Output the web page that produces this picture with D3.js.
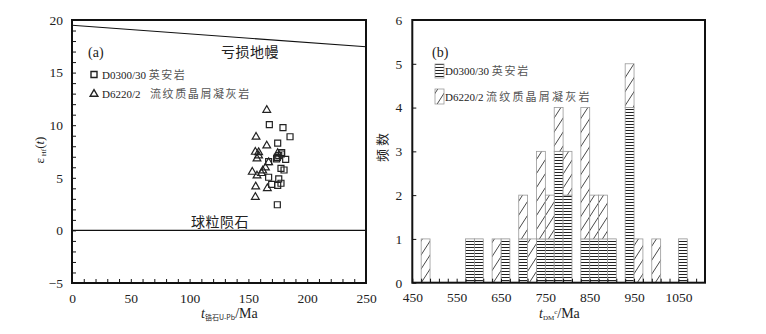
<!DOCTYPE html>
<html><head><meta charset="utf-8">
<script src="https://cdn.jsdelivr.net/npm/d3@7"></script>
<style>
html,body{margin:0;padding:0;background:#fff;}
svg{display:block;}
text{font-family:"Liberation Serif","Noto Sans CJK SC",serif;fill:#222;}
.tick text{font-family:"Liberation Serif",serif !important;}
.cjk{font-family:"Noto Sans CJK SC",sans-serif;}
</style></head>
<body>
<svg id="c" width="766" height="334"></svg>
<script>
// ---------- Panel (a) data ----------
const sqAge = [167.8,179.4,185.4,174.9,178.3,174.6,178.0,181.7,167.2,177.7,180.3,167.2,175.8,169.8,177.7,174.9,174.6,175.8,174.0];
const sqEps = [10.05,9.76,8.9,8.3,7.39,6.95,7.26,6.76,6.53,5.9,5.74,5.05,4.89,4.38,4.48,4.28,2.44,7.1,6.8];
const triAge = [165.6,156.5,165.6,155.9,158.7,158.7,157.3,153.3,157.3,162.2,164.5,161.1,156.2,166.1,155.9,174.9,167.2];
const triEps = [11.44,8.88,8.05,7.45,7.42,7.1,6.82,5.55,5.2,5.68,5.96,5.43,4.16,4.0,3.17,7.33,6.47];
const dmAge = [0, 250];
const dmEps = [19.5, 17.45];
const chuAge = [0, 250];
const chuEps = [0, 0];
const aXTicks = [0,50,100,150,200,250];
const aYTicks = [-5,0,5,10,15,20];
const legendA = ["D0300/30 英安岩", "D6220/2  流纹质晶屑凝灰岩"];

// ---------- Panel (b) data ----------
const binStart = [470,570,590,630,650,690,710,730,750,770,790,830,850,870,890,930,950,990,1050];
const cntD0300 = [0,1,1,0,1,1,0,1,1,3,2,1,1,1,1,4,0,0,1];
const cntD6220 = [1,0,0,1,0,1,1,2,1,1,1,3,1,1,0,1,1,1,0];
const binWidth = 20;
const bXTicks = [450,550,650,750,850,950,1050];
const bYTicks = [0,1,2,3,4,5,6];
const legendB = ["D0300/30 英安岩", "D6220/2  流纹质晶屑凝灰岩"];

const SERIF = "'Liberation Serif','Times New Roman',serif";
const svg = d3.select("#c");
const defs = svg.append("defs");
const ph = defs.append("pattern").attr("id","hpat").attr("patternUnits","userSpaceOnUse")
  .attr("width",4).attr("height",3);
ph.append("rect").attr("width",4).attr("height",3).attr("fill","#fff");
ph.append("line").attr("x1",0).attr("x2",4).attr("y1",1.5).attr("y2",1.5)
  .attr("stroke","#222").attr("stroke-width",1);
const pd = defs.append("pattern").attr("id","dpat").attr("patternUnits","userSpaceOnUse")
  .attr("width",9).attr("height",14);
pd.append("rect").attr("width",9).attr("height",14).attr("fill","#fff");
pd.append("path").attr("d","M0,14 L9,0 M-9,14 L0,0 M9,14 L18,0").attr("stroke","#333").attr("stroke-width",0.9);

function styleLabels(g){
  g.attr("font-family",SERIF).attr("font-size",13.5);
  g.selectAll("text").attr("font-size",13.5).attr("fill","#222").attr("font-family",SERIF).style("font-family",SERIF);
}

// ================= Panel (a) =================
const A = {l:72, r:366, t:20, b:283};
const xa = d3.scaleLinear().domain([0,250]).range([A.l, A.r]);
const ya = d3.scaleLinear().domain([-5,20]).range([A.b, A.t]);
const ga = svg.append("g");

ga.append("g").attr("transform",`translate(0,${A.b})`)
  .call(d3.axisBottom(xa).tickValues(d3.range(0,251,10)).tickSize(-4).tickFormat(""))
  .call(g=>g.select(".domain").remove())
  .call(g=>g.selectAll("line").attr("stroke","#111").attr("stroke-width",1));
ga.append("g").attr("transform",`translate(${A.l},0)`)
  .call(d3.axisLeft(ya).tickValues(d3.range(-5,21,1)).tickSize(-4).tickFormat(""))
  .call(g=>g.select(".domain").remove())
  .call(g=>g.selectAll("line").attr("stroke","#111").attr("stroke-width",1));
ga.append("g").attr("transform",`translate(0,${A.b})`)
  .call(d3.axisBottom(xa).tickValues(aXTicks).tickSize(0).tickPadding(10).tickFormat(d3.format("d")))
  .call(g=>g.select(".domain").remove())
  .call(styleLabels);
ga.append("g").attr("transform",`translate(${A.l},0)`)
  .call(d3.axisLeft(ya).tickValues(aYTicks).tickSize(0).tickPadding(9).tickFormat(d3.format("d")))
  .call(g=>g.select(".domain").remove())
  .call(styleLabels);

const lineA = d3.line().x(d=>xa(d[0])).y(d=>ya(d[1]));
ga.append("path").attr("d",lineA(dmAge.map((a,i)=>[a,dmEps[i]]))).attr("stroke","#111").attr("stroke-width",1.1).attr("fill","none");
ga.append("path").attr("d",lineA(chuAge.map((a,i)=>[a,chuEps[i]]))).attr("stroke","#111").attr("stroke-width",1.1).attr("fill","none");
ga.append("text").attr("class","cjk").attr("x",250).attr("y",57).attr("text-anchor","middle")
  .attr("font-size",14).attr("letter-spacing",0.5).attr("fill","#444").text("亏损地幔");
ga.append("text").attr("class","cjk").attr("x",220).attr("y",227).attr("text-anchor","middle")
  .attr("font-size",14).attr("letter-spacing",0.5).attr("fill","#444").text("球粒陨石");

const symSq = d3.symbol().type(d3.symbolSquare).size(36);
const symTri = d3.symbol().type(d3.symbolTriangle).size(26);
ga.append("g").selectAll("path").data(triAge.map((a,i)=>[a,triEps[i]])).join("path")
  .attr("d",symTri).attr("transform",d=>`translate(${xa(d[0])},${ya(d[1])})`)
  .attr("fill","none").attr("stroke","#222").attr("stroke-width",1.2);
ga.append("g").selectAll("path").data(sqAge.map((a,i)=>[a,sqEps[i]])).join("path")
  .attr("d",symSq).attr("transform",d=>`translate(${xa(d[0])},${ya(d[1])})`)
  .attr("fill","none").attr("stroke","#222").attr("stroke-width",1.2);

ga.append("text").attr("x",88).attr("y",57).attr("font-size",14).attr("font-family",SERIF).text("(a)");
ga.append("path").attr("d",symSq).attr("transform","translate(94,74.5)").attr("fill","none").attr("stroke","#222").attr("stroke-width",1.4);
ga.append("path").attr("d",symTri).attr("transform","translate(94,94)").attr("fill","none").attr("stroke","#222").attr("stroke-width",1.4);
const la1 = ga.append("text").attr("x",102).attr("y",78.5).attr("font-size",11);
la1.append("tspan").attr("font-family",SERIF).text("D0300/30 ");
la1.append("tspan").attr("class","cjk").attr("letter-spacing",1.5).attr("fill","#555").text("英安岩");
const la2 = ga.append("text").attr("x",102).attr("y",98).attr("font-size",11);
la2.append("tspan").attr("font-family",SERIF).text("D6220/2");
la2.append("tspan").attr("class","cjk").attr("x",150).attr("letter-spacing",1.6).attr("fill","#555").text("流纹质晶屑凝灰岩");

const ta = ga.append("text").attr("x",201).attr("y",318).attr("font-size",14).attr("font-family",SERIF);
ta.append("tspan").attr("font-style","italic").text("t");
ta.append("tspan").attr("class","cjk").attr("font-size",7).attr("dy",2).text("锆石U-Pb");
ta.append("tspan").attr("dy",-2).text("/Ma");
const ya_t = ga.append("text").attr("transform","translate(44,150) rotate(-90)").attr("text-anchor","middle").attr("font-size",13).attr("font-family",SERIF);
ya_t.append("tspan").text("ε");
ya_t.append("tspan").attr("font-size",7).attr("dy",2).text(" Hf");
ya_t.append("tspan").attr("dy",-2).text("(");
ya_t.append("tspan").attr("font-style","italic").text("t");
ya_t.append("tspan").text(")");

ga.append("rect").attr("x",A.l).attr("y",A.t).attr("width",A.r-A.l).attr("height",A.b-A.t)
  .attr("fill","none").attr("stroke","#111").attr("stroke-width",2);

// ================= Panel (b) =================
const B = {l:412.3, r:705, t:20, b:282.7};
const xb = d3.scaleLinear().domain([450,1110]).range([B.l, B.r]);
const yb = d3.scaleLinear().domain([0,6]).range([B.b, B.t]);
const gb = svg.append("g");

const bins = binStart.map((s,i)=>({s, h:cntD0300[i], d:cntD6220[i]}));
gb.append("g").selectAll("rect").data(bins.filter(d=>d.h>0)).join("rect")
  .attr("x",d=>xb(d.s)).attr("width",d=>xb(d.s+binWidth)-xb(d.s))
  .attr("y",d=>yb(d.h)).attr("height",d=>yb(0)-yb(d.h))
  .attr("fill","url(#hpat)").attr("stroke","#999").attr("stroke-width",0.8);
gb.append("g").selectAll("rect").data(bins.filter(d=>d.d>0)).join("rect")
  .attr("x",d=>xb(d.s)).attr("width",d=>xb(d.s+binWidth)-xb(d.s))
  .attr("y",d=>yb(d.h+d.d)).attr("height",d=>yb(d.h)-yb(d.h+d.d))
  .attr("fill","url(#dpat)").attr("stroke","#999").attr("stroke-width",0.8);

gb.append("g").attr("transform",`translate(0,${B.b})`)
  .call(d3.axisBottom(xb).tickValues(d3.range(450,1111,20)).tickSize(-4).tickFormat(""))
  .call(g=>g.select(".domain").remove())
  .call(g=>g.selectAll("line").attr("stroke","#111").attr("stroke-width",1));
gb.append("g").attr("transform",`translate(${B.l},0)`)
  .call(d3.axisLeft(yb).tickValues(bYTicks).tickSize(-4).tickFormat(""))
  .call(g=>g.select(".domain").remove())
  .call(g=>g.selectAll("line").attr("stroke","#111").attr("stroke-width",1));
gb.append("g").attr("transform",`translate(0,${B.b})`)
  .call(d3.axisBottom(xb).tickValues(bXTicks).tickSize(0).tickPadding(10).tickFormat(d3.format("d")))
  .call(g=>g.select(".domain").remove())
  .call(styleLabels);
gb.append("g").attr("transform",`translate(${B.l},0)`)
  .call(d3.axisLeft(yb).tickValues(bYTicks).tickSize(0).tickPadding(10).tickFormat(d3.format("d")))
  .call(g=>g.select(".domain").remove())
  .call(styleLabels);

gb.append("text").attr("x",432).attr("y",57).attr("font-size",14).attr("font-family",SERIF).text("(b)");
gb.append("rect").attr("x",435).attr("y",64).attr("width",9).attr("height",14).attr("fill","url(#hpat)").attr("stroke","#999").attr("stroke-width",0.8);
gb.append("rect").attr("x",435).attr("y",89).attr("width",9).attr("height",15).attr("fill","url(#dpat)").attr("stroke","#999").attr("stroke-width",0.8);
const lb1 = gb.append("text").attr("x",445).attr("y",75).attr("font-size",11);
lb1.append("tspan").attr("font-family",SERIF).text("D0300/30 ");
lb1.append("tspan").attr("class","cjk").attr("letter-spacing",1.8).attr("fill","#555").text("英安岩");
const lb2 = gb.append("text").attr("x",445).attr("y",101).attr("font-size",11);
lb2.append("tspan").attr("font-family",SERIF).text("D6220/2");
lb2.append("tspan").attr("class","cjk").attr("x",486).attr("letter-spacing",2.2).attr("fill","#555").text("流纹质晶屑凝灰岩");

const tb = gb.append("text").attr("x",539).attr("y",318).attr("font-size",14).attr("font-family",SERIF);
tb.append("tspan").attr("font-style","italic").text("t");
tb.append("tspan").attr("font-size",7).attr("dy",2).text("DM");
tb.append("tspan").attr("font-size",7).attr("dy",-6).text("c");
tb.append("tspan").attr("dy",4).text("/Ma");
gb.append("text").attr("class","cjk").attr("transform","translate(387,146) rotate(-90)").attr("text-anchor","middle")
  .attr("font-size",13).attr("letter-spacing",3).attr("fill","#555").text("频数");

gb.append("rect").attr("x",B.l).attr("y",B.t).attr("width",B.r-B.l).attr("height",B.b-B.t)
  .attr("fill","none").attr("stroke","#111").attr("stroke-width",2);
</script>
</body></html>
